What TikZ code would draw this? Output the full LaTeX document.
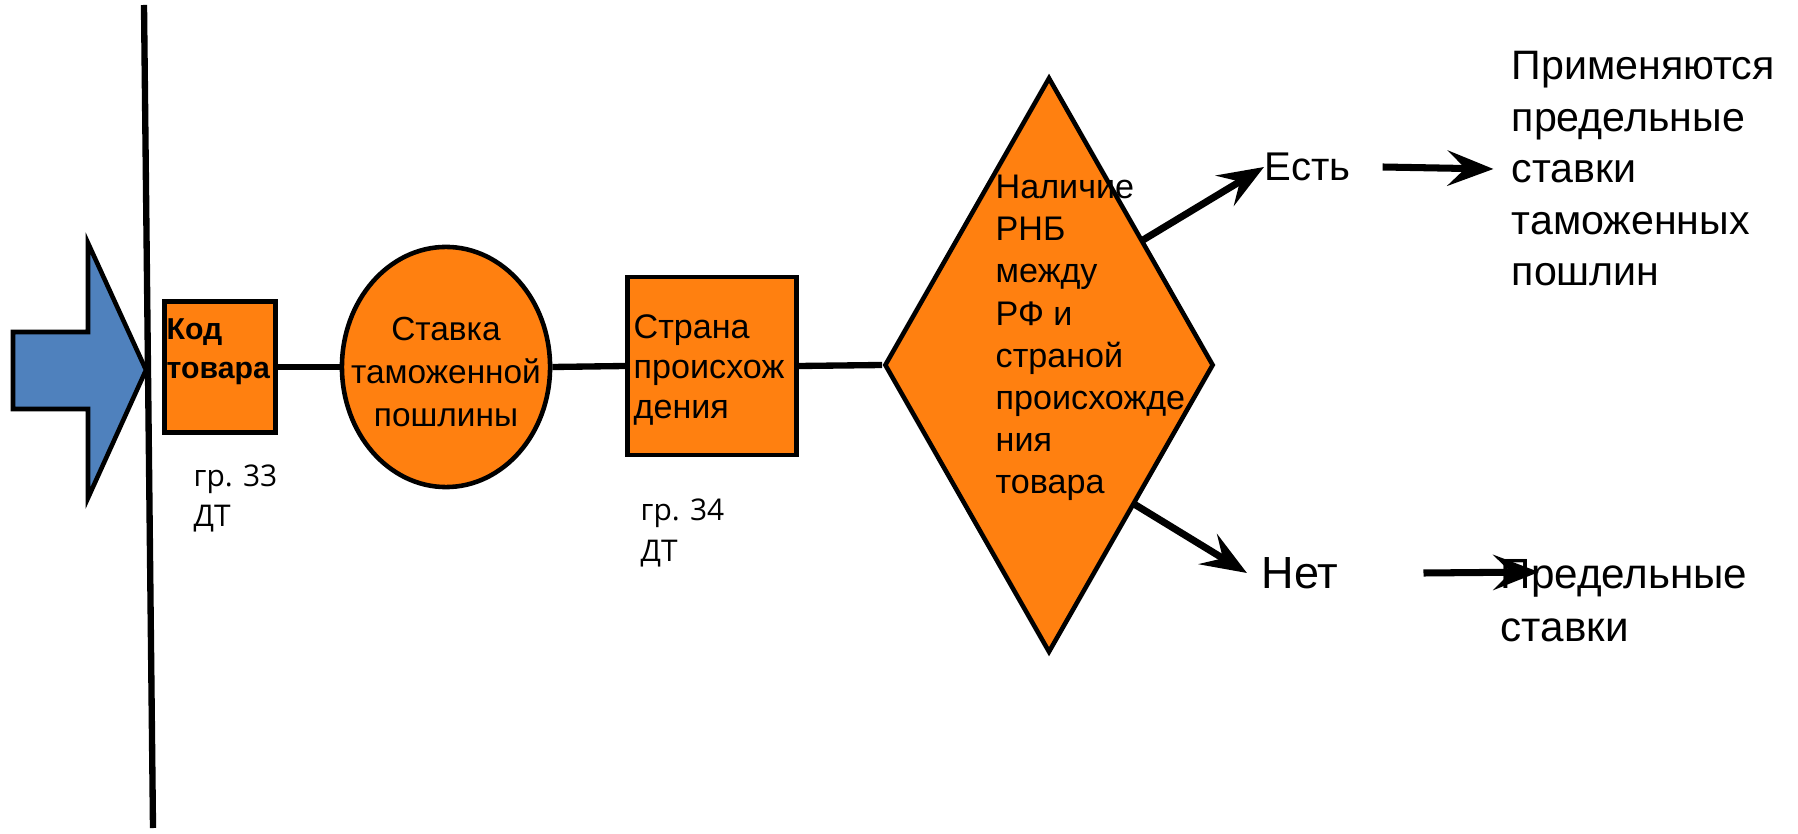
\documentclass[tikz,border=0pt]{standalone}
\usepackage{fontspec}
\setmainfont{Liberation Sans}
\newfontfamily\grfont{Open Sans}
\usetikzlibrary{shapes.geometric,arrows.meta}
\definecolor{boxorange}{RGB}{255,128,16}
\definecolor{arrowblue}{RGB}{79,129,189}
\begin{document}
\begin{tikzpicture}[x=0.01cm,y=-0.01cm,
  fillshape/.style={draw,line width=1.3pt,fill=boxorange,inner sep=0pt},
  txt/.style={inner sep=0pt,anchor=west,align=left},
  link/.style={line width=1.8pt},
  arr/.style={line width=2pt,-{Stealth[length=13pt,width=10pt,inset=5pt]}}]
\useasboundingbox (0,0) rectangle (1798,834);
\draw[line width=1.3pt,fill=arrowblue] (13,332) -- (88,332) -- (88,243) -- (146,370) -- (88,498) -- (88,409) -- (13,409) -- cycle;
\draw[line width=1.8pt] (144,5) -- (153,828);
\node[fillshape,minimum width=1.11cm,minimum height=1.31cm] (kod) at (220,367) {};
\node[fillshape,ellipse,minimum width=2.08cm,minimum height=2.4cm] (stavka) at (446,367) {};
\node[fillshape,minimum width=1.69cm,minimum height=1.78cm] (strana) at (712,366) {};
\node[fillshape,diamond,minimum width=3.29cm,minimum height=5.75cm] (rnb) at (1049,365) {};
\draw[link] (kod.east) -- (stavka.west);
\draw[link] (stavka.east) -- (strana.west);
\draw[link] (strana.east) -- (rnb.west);
\node[txt,font=\bfseries\fontsize{8.6pt}{11.1pt}\selectfont] (kodtxt) at (166,352) {Код\\товара};
\node[inner sep=0pt,align=center,font=\fontsize{9.5pt}{12.2pt}\selectfont] (stavkatxt) at (446,372) {Ставка\\таможенной\\пошлины};
\node[txt,font=\fontsize{9.7pt}{11.5pt}\selectfont] (stranatxt) at (633,370) {Страна\\происхож\\дения};
\node[txt,font=\fontsize{9.7pt}{12pt}\selectfont] (rnbtxt) at (995,338) {Наличие\\РНБ\\между\\РФ и\\страной\\происхожде\\ния\\товара};
\node[txt,font=\grfont\fontsize{8.5pt}{11.4pt}\selectfont] (gr33) at (193,498) {гр. 33\\ДТ};
\node[txt,font=\grfont\fontsize{8.5pt}{11.4pt}\selectfont] (gr34) at (640,533) {гр. 34\\ДТ};
\node[txt,font=\fontsize{11.4pt}{14pt}\selectfont] (est) at (1264,167) {Есть};
\node[txt,font=\fontsize{12.8pt}{15pt}\selectfont] (net) at (1261,573) {Нет};
\node[txt,font=\fontsize{11.7pt}{14.65pt}\selectfont] (primen) at (1511,169) {Применяются\\предельные\\ставки\\таможенных\\пошлин};
\node[txt,font=\fontsize{12pt}{15pt}\selectfont] (predel) at (1500,601) {Предельные\\ставки};
\coordinate (estfrom) at (1143,240);
\coordinate (netfrom) at (1134,504);
\coordinate (predto) at (1539,572);
\draw[arr] (estfrom) -- (est.west);
\draw[arr] (netfrom) -- ([xshift=-4pt]net.west);
\draw[arr] ([xshift=9pt]est.east) -- ([xshift=-5pt]primen.west);
\draw[arr] ([xshift=24pt]net.east) -- (predto);
\end{tikzpicture}
\end{document}
